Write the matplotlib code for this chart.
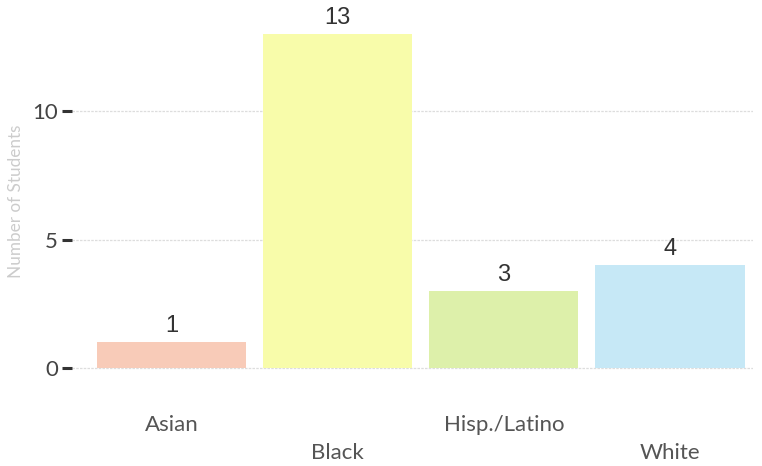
import matplotlib
matplotlib.use("Agg")
import matplotlib.pyplot as plt

groups = ["Asian", "Black", "Hisp./Latino", "White"]
students = [1, 13, 3, 4]
bar_colors = ["#f8cbb8", "#f8fcaa", "#ddf0aa", "#c6e8f6"]

fig = plt.figure(figsize=(7.62, 4.66), dpi=100)
ax = fig.add_axes([0.0945, 0.174, 0.8935, 0.7895])

x = list(range(len(groups)))
ax.bar(x, students, width=0.9, color=bar_colors, zorder=2)
for xi, v in zip(x, students):
    ax.text(xi, v + 0.2, str(v), ha="center", va="bottom",
            fontsize=17, color="#333333", family=["Liberation Sans"])

ax.set_xlim(-0.6, 3.5)
ax.set_ylim(-0.65, 13.65)
ax.set_yticks([0, 5, 10])
ax.set_yticklabels(["0", "5", "10"], family="Lato", fontsize=16, color="#444444")
ax.set_xticks(x)
ax.set_xticklabels(groups, family="Lato", fontsize=16, color="#555555")
for i, t in enumerate(ax.xaxis.get_major_ticks()):
    t.set_pad(22 if i % 2 == 0 else 42)
ax.tick_params(axis="x", length=0)
ax.tick_params(axis="y", length=7, width=2.2, color="#333333", pad=3)

ax.grid(axis="y", color="#dddddd", linestyle=(0, (2, 1)), linewidth=0.9, zorder=0)
for s in ax.spines.values():
    s.set_visible(False)

ax.set_ylabel("Number of Students", family="Lato", fontsize=12.3, color="#cccccc")
ax.yaxis.set_label_coords(-0.071, 0.5)

fig.savefig("out.png", dpi=100)
